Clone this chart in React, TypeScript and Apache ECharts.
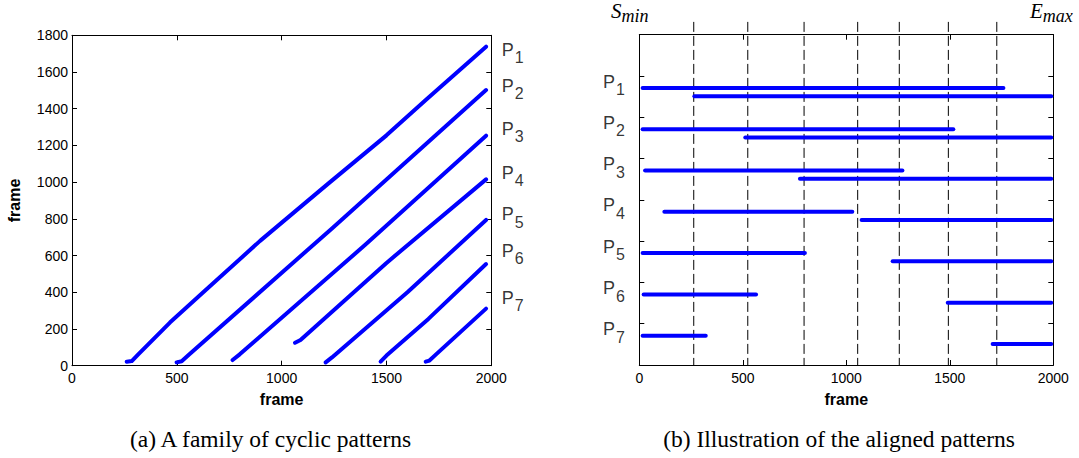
import React, { useEffect, useRef } from "react";
import * as echarts from "echarts";

// ---- Panel (a): cyclic patterns (frame vs frame) ----
const P1_PATH = [[261, 22], [285, 25], [316, 62], [467, 235], [626, 400], [897, 680], [1215, 985], [1500, 1255], [1690, 1450], [1975, 1738]];
const P2_PATH = [[499, 18], [523, 24], [560, 62], [1240, 748], [1975, 1502]];
const P3_PATH = [[766, 31], [800, 62], [1400, 660], [1975, 1253]];
const P4_PATH = [[1064, 125], [1090, 140], [1500, 560], [1975, 1015]];
const P5_PATH = [[1210, 18], [1240, 45], [1600, 400], [1975, 794]];
const P6_PATH = [[1472, 22], [1500, 55], [1700, 255], [1975, 554]];
const P7_PATH = [[1687, 22], [1705, 28], [1730, 55], [1975, 311]];
const PATHS = [P1_PATH, P2_PATH, P3_PATH, P4_PATH, P5_PATH, P6_PATH, P7_PATH];
const LEFT_LABEL_Y = [1715, 1520, 1285, 1045, 820, 620, 365];

// ---- Panel (b): aligned patterns ----
const ALIGNED_START = [16, 16, 28, 121, 16, 21, 16];
const ALIGNED_END = [1759, 1517, 1271, 1029, 800, 564, 321];
const ORIG_START = [266, 512, 776, 1074, 1224, 1490, 1707];
const ORIG_END = [1990, 1990, 1990, 1990, 1990, 1990, 1990];
const DASH_X = [263, 524, 796, 1055, 1256, 1493, 1727];

const X_TICKS_INTERVAL = 500;
const Y_TICKS_INTERVAL = 200;

const SANS = "Liberation Sans, Arial, sans-serif";
const SERIF = "Liberation Serif, Times New Roman, serif";
const BLUE = "#0000ff";

const labelRich = {
  p: { fontSize: 18, lineHeight: 20, fontFamily: SANS, color: "#000", verticalAlign: "top" },
  s: { fontSize: 16, lineHeight: 20, fontFamily: SANS, color: "#000", verticalAlign: "top", padding: [9, 0, 0, 1] },
};

function boxAxis(extra: any) {
  return {
    type: "value",
    splitLine: { show: false },
    axisLine: { show: true, onZero: false, lineStyle: { color: "#000", width: 1 } },
    axisTick: { show: true, inside: true, length: 5, lineStyle: { color: "#000" } },
    ...extra,
  };
}

export default function App() {
  const ref = useRef<HTMLDivElement>(null);
  useEffect(() => {
    document.body.style.margin = "0";
    const chart = echarts.init(ref.current!, null, { renderer: "svg" });
    const tickLabel = { color: "#000", fontSize: 14, fontFamily: SANS, formatter: (v: number) => String(v) };
    const nameStyle = { color: "#000", fontSize: 16, fontWeight: "bold", fontFamily: SANS };

    const segData: any[] = [];
    for (let i = 0; i < 7; i++) {
      segData.push([ALIGNED_START[i], ALIGNED_END[i], i + 1 + 0.29]);
      segData.push([ORIG_START[i], ORIG_END[i], i + 1 + 0.49]);
    }

    const option: any = {
      animation: false,
      grid: [
        { left: 72, top: 35.3, width: 419.3, height: 330.4, show: false },
        { left: 639.3, top: 34.7, width: 414, height: 330.3, show: false },
      ],
      xAxis: [
        boxAxis({ gridIndex: 0, position: "bottom", min: 0, max: 2000, interval: X_TICKS_INTERVAL,
          axisLabel: { ...tickLabel, margin: 5 }, name: "frame", nameLocation: "middle", nameGap: 26, nameTextStyle: { ...nameStyle, verticalAlign: "top" } }),
        boxAxis({ gridIndex: 0, position: "top", min: 0, max: 2000, interval: X_TICKS_INTERVAL, axisLabel: { show: false } }),
        boxAxis({ gridIndex: 1, position: "bottom", min: 0, max: 2000, interval: X_TICKS_INTERVAL,
          axisLabel: { ...tickLabel, margin: 6 }, name: "frame", nameLocation: "middle", nameGap: 26, nameTextStyle: { ...nameStyle, verticalAlign: "top" } }),
        boxAxis({ gridIndex: 1, position: "top", min: 0, max: 2000, interval: X_TICKS_INTERVAL, axisLabel: { show: false } }),
      ],
      yAxis: [
        boxAxis({ gridIndex: 0, position: "left", min: 0, max: 1800, interval: Y_TICKS_INTERVAL,
          axisLabel: { ...tickLabel, margin: 4 }, name: "frame", nameLocation: "middle", nameGap: 50, nameTextStyle: { ...nameStyle } }),
        boxAxis({ gridIndex: 0, position: "right", min: 0, max: 1800, interval: Y_TICKS_INTERVAL, axisLabel: { show: false } }),
        boxAxis({ gridIndex: 1, position: "left", min: 0, max: 8, interval: 1, inverse: true, axisLabel: { show: false } }),
        boxAxis({ gridIndex: 1, position: "right", min: 0, max: 8, interval: 1, inverse: true, axisLabel: { show: false } }),
      ],
      series: [
        ...PATHS.map((pts) => ({
          type: "line",
          xAxisIndex: 0,
          yAxisIndex: 0,
          data: pts,
          showSymbol: false,
          silent: true,
          lineStyle: { color: BLUE, width: 4, cap: "round", join: "round" },
        })),
        {
          type: "scatter",
          xAxisIndex: 0,
          yAxisIndex: 0,
          symbolSize: 1,
          itemStyle: { color: "rgba(0,0,0,0)" },
          silent: true,
          data: LEFT_LABEL_Y.map((y) => [2000, y]),
          label: {
            show: true,
            position: "right",
            distance: 10,
            color: "#000",
            formatter: (p: any) => `{p|P}{s|${p.dataIndex + 1}}`,
            rich: labelRich,
          },
        },
        {
          type: "custom",
          xAxisIndex: 2,
          yAxisIndex: 2,
          clip: false,
          silent: true,
          data: DASH_X.map((x) => [x, -0.31, 8]),
          encode: { x: 0, y: [1, 2] },
          renderItem: (params: any, api: any) => {
            const a = api.coord([api.value(0), api.value(1)]);
            const b = api.coord([api.value(0), api.value(2)]);
            return {
              type: "line",
              shape: { x1: a[0], y1: a[1], x2: b[0], y2: b[1] },
              style: { stroke: "#000", lineWidth: 1, lineDash: [10, 4] },
            };
          },
        },
        {
          type: "custom",
          xAxisIndex: 2,
          yAxisIndex: 2,
          silent: true,
          data: segData,
          encode: { x: [0, 1], y: 2 },
          renderItem: (params: any, api: any) => {
            const a = api.coord([api.value(0), api.value(2)]);
            const b = api.coord([api.value(1), api.value(2)]);
            return {
              type: "line",
              shape: { x1: a[0], y1: a[1], x2: b[0], y2: b[1] },
              style: { stroke: BLUE, lineWidth: 4, lineCap: "round" },
            };
          },
        },
        {
          type: "scatter",
          xAxisIndex: 2,
          yAxisIndex: 2,
          symbolSize: 1,
          itemStyle: { color: "rgba(0,0,0,0)" },
          silent: true,
          data: [1, 2, 3, 4, 5, 6, 7].map((i) => [0, i + 0.16]),
          label: {
            show: true,
            position: "left",
            distance: 14,
            color: "#000",
            formatter: (p: any) => `{p|P}{s|${p.dataIndex + 1}}`,
            rich: labelRich,
          },
        },
      ],
      graphic: [
        {
          type: "text",
          x: 611,
          y: 0,
          style: {
            text: "{a|S}{b|min}",
            rich: {
              a: { fontSize: 21, lineHeight: 22, fontStyle: "italic", fontFamily: SERIF, color: "#000", verticalAlign: "top" },
              b: { fontSize: 18, lineHeight: 22, fontStyle: "italic", fontFamily: SERIF, color: "#000", verticalAlign: "top", padding: [7, 0, 0, 0] },
            },
          },
        },
        {
          type: "text",
          x: 1030,
          y: 0,
          style: {
            text: "{a|E}{b|max}",
            rich: {
              a: { fontSize: 21, lineHeight: 22, fontStyle: "italic", fontFamily: SERIF, color: "#000", verticalAlign: "top" },
              b: { fontSize: 18, lineHeight: 22, fontStyle: "italic", fontFamily: SERIF, color: "#000", verticalAlign: "top", padding: [7, 0, 0, 0] },
            },
          },
        },
        {
          type: "text",
          x: 270.5,
          y: 439,
          style: { text: "(a) A family of cyclic patterns", fontSize: 23.5, fontFamily: SERIF, fill: "#000", textAlign: "center", textVerticalAlign: "middle" },
        },
        {
          type: "text",
          x: 839,
          y: 439,
          style: { text: "(b) Illustration of the aligned patterns", fontSize: 23.5, fontFamily: SERIF, fill: "#000", textAlign: "center", textVerticalAlign: "middle" },
        },
      ],
    };
    chart.setOption(option);
    return () => chart.dispose();
  }, []);
  return <div ref={ref} style={{ width: 1079, height: 458, background: "#fff" }} />;
}
